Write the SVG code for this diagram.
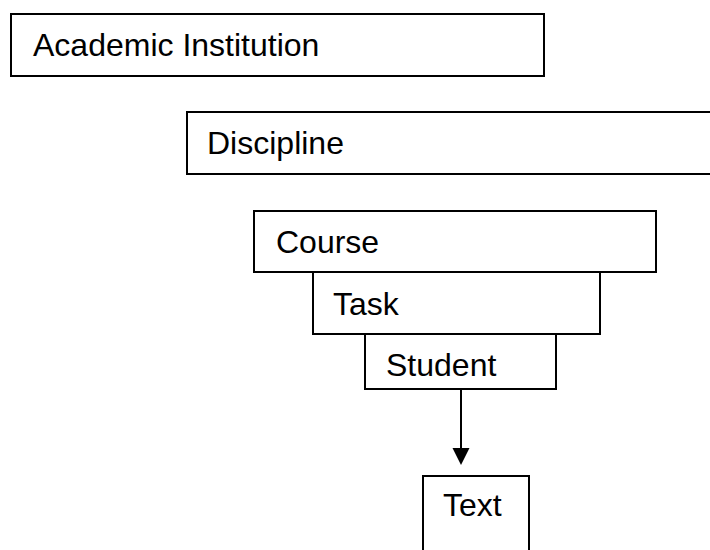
<svg xmlns="http://www.w3.org/2000/svg" width="710" height="550" viewBox="0 0 710 550">
<style>
.box{fill:#fff;stroke:#000;stroke-width:2}
.lbl{font-family:"Liberation Sans",Arial,sans-serif;font-size:32px;fill:#000}
.conn{stroke:#000;stroke-width:2;fill:none}
</style>
<defs>
<marker id="arr" markerWidth="18" markerHeight="17" refX="17" refY="8.5" orient="auto" markerUnits="userSpaceOnUse" viewBox="0 0 17 18">
<path d="M0,0 L17,9 L0,18 Z" fill="#000"/>
</marker>
</defs>
<rect width="710" height="550" fill="#fff"/>
<g id="academic-institution"><rect class="box" x="11" y="14" width="533" height="62"/><text class="lbl" x="33" y="56">Academic Institution</text></g>
<g id="discipline"><rect class="box" x="187" y="112" width="533" height="62"/><text class="lbl" x="207" y="154">Discipline</text></g>
<g id="course"><rect class="box" x="254" y="211" width="402" height="61"/><text class="lbl" x="276" y="253">Course</text></g>
<g id="task"><rect class="box" x="313" y="272" width="287" height="62"/><text class="lbl" x="333" y="315">Task</text></g>
<g id="student"><rect class="box" x="365" y="334" width="191" height="55"/><text class="lbl" x="386" y="376">Student</text></g>
<g id="text-node"><rect class="box" x="423" y="476" width="106" height="84"/><text class="lbl" x="443" y="516">Text</text></g>
<g id="connectors"><line class="conn" x1="461" y1="389" x2="461" y2="450"/><path d="M452.5,448 L469.5,448 L461,465 Z" fill="#000"/></g>
</svg>
